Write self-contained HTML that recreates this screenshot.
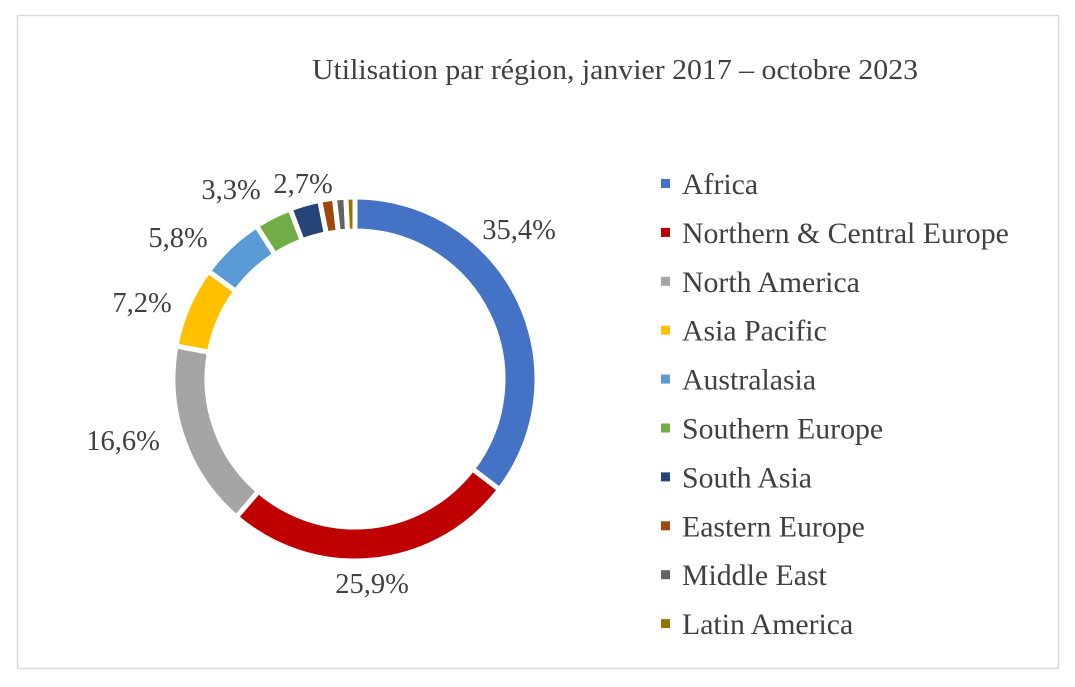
<!DOCTYPE html>
<html><head><meta charset="utf-8"><style>
body{margin:0;background:#fff;width:1075px;height:682px;overflow:hidden}
svg text{font-family:"Liberation Serif",serif;fill:#404040}
</style></head><body>
<svg id="s" width="1075" height="682" xmlns="http://www.w3.org/2000/svg">
<rect x="17.5" y="15.5" width="1041" height="653" fill="#fff" stroke="#d9d9d9" stroke-width="1.5"/>
<text x="312" y="79" font-size="28" textLength="606" lengthAdjust="spacingAndGlyphs">Utilisation par région, janvier 2017 – octobre 2023</text>
<g id="d"></g>
<g font-size="28.5">
<text x="519" y="239" text-anchor="middle">35,4%</text>
<text x="372" y="593" text-anchor="middle">25,9%</text>
<text x="123" y="450" text-anchor="middle">16,6%</text>
<text x="142" y="312" text-anchor="middle">7,2%</text>
<text x="178" y="247" text-anchor="middle">5,8%</text>
<text x="231" y="199" text-anchor="middle">3,3%</text>
<text x="303" y="193" text-anchor="middle">2,7%</text>
</g>
<g id="l" font-size="29.8"></g>
</svg>
<script>
var data=[35.4,25.9,16.6,7.2,5.8,3.3,2.7,1.3,1.0,0.8];
var cols=["#4472C4","#C00000","#A5A5A5","#FFC000","#5B9BD5","#70AD47","#264478","#9E480E","#636363","#997300"];
var names=["Africa","Northern & Central Europe","North America","Asia Pacific","Australasia","Southern Europe","South Asia","Eastern Europe","Middle East","Latin America"];
var cx=355,cy=379,R=182,r=148,tot=data.reduce((a,b)=>a+b,0),a=0,g=document.getElementById('d'),h='';
function p(rad,ang){return [cx+rad*Math.sin(ang),cy-rad*Math.cos(ang)];}
data.forEach(function(v,i){var a0=a/tot*2*Math.PI,a1=(a+v)/tot*2*Math.PI;a+=v;var L=(a1-a0)>Math.PI?1:0;
var p0=p(R,a0),p1=p(R,a1),q1=p(r,a1),q0=p(r,a0);
h+='<path d="M'+p0+' A'+R+' '+R+' 0 '+L+' 1 '+p1+' L'+q1+' A'+r+' '+r+' 0 '+L+' 0 '+q0+'Z" fill="'+cols[i]+'" stroke="#fff" stroke-width="5"/>';});
g.innerHTML=h;
var l='';names.forEach(function(n,i){var y=184+i*48.9;l+='<rect x="661" y="'+(y-5)+'" width="9" height="9" fill="'+cols[i]+'"/><text x="682" y="'+(y+10)+'">'+n.replace('&','&amp;')+'</text>';});
document.getElementById('l').innerHTML=l;
</script>
</body></html>
